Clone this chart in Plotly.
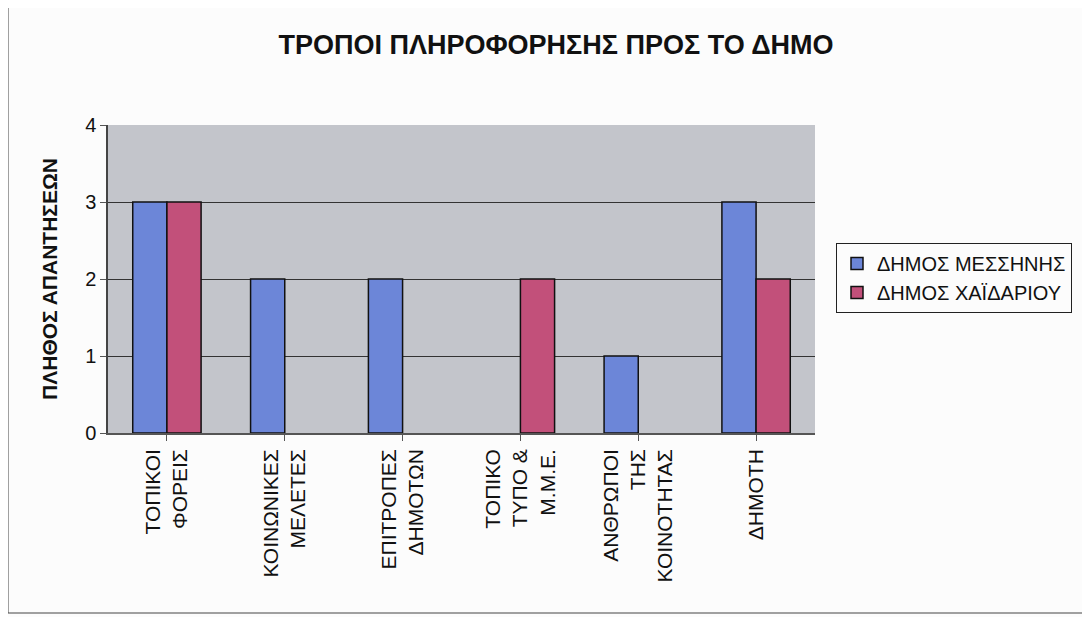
import plotly.graph_objects as go

categories = ["ΤΟΠΙΚΟΙ<br>ΦΟΡΕΙΣ", "ΚΟΙΝΩΝΙΚΕΣ<br>ΜΕΛΕΤΕΣ", "ΕΠΙΤΡΟΠΕΣ<br>ΔΗΜΟΤΩΝ",
              "ΤΟΠΙΚΟ<br>ΤΥΠΟ &<br>Μ.Μ.Ε.", "ΑΝΘΡΩΠΟΙ<br>ΤΗΣ<br>ΚΟΙΝΟΤΗΤΑΣ", "ΔΗΜΟΤΗ"]
messini = [3, 2, 2, None, 1, 3]
chaidari = [3, None, None, 2, None, 2]
series_names = ["ΔΗΜΟΣ ΜΕΣΣΗΝΗΣ", "ΔΗΜΟΣ ΧΑΪΔΑΡΙΟΥ"]
y_ticks = [0, 1, 2, 3, 4]

FONT = "Liberation Sans, Arial, sans-serif"
OFF = 8  # browser body margin
W, H = 1090 - OFF, 617 - OFF
L, R, T, B = 108 - OFF, 815 - OFF, 125 - OFF, 433 - OFF

fig = go.Figure()
fig.add_trace(go.Bar(x=categories, y=messini, name=series_names[0],
                     marker=dict(color="#6c86d8", line=dict(color="#111111", width=1.5))))
fig.add_trace(go.Bar(x=categories, y=chaidari, name=series_names[1],
                     marker=dict(color="#c2507a", line=dict(color="#111111", width=1.5))))

def px_x(p):
    return (p - OFF - L) / (R - L)

def px_y(p):
    return (B - (p - OFF)) / (B - T)

fig.update_layout(
    width=W, height=H,
    margin=dict(l=L, r=W - R, t=T, b=H - B),
    paper_bgcolor="#fcfcfc",
    plot_bgcolor="#c3c5cb",
    barmode="group",
    bargap=0.42,
    bargroupgap=0.0,
    font=dict(family=FONT, size=16, color="#111111"),
    title=dict(text="<b>ΤΡΟΠΟΙ ΠΛΗΡΟΦΟΡΗΣΗΣ ΠΡΟΣ ΤΟ ΔΗΜΟ</b>", x=(556 - OFF) / W, xanchor="center",
               y=1 - (45 - OFF) / H, yanchor="middle", font=dict(family=FONT, size=27, color="#111111")),
    legend=dict(x=px_x(836), y=px_y(243), xanchor="left", yanchor="top",
                bgcolor="#fcfcfc", bordercolor="#222222", borderwidth=1,
                font=dict(family=FONT, size=20, color="#111111"),
                itemwidth=30),
    showlegend=True,
)
fig.update_xaxes(tickangle=-90, showline=True, linecolor="#555555", linewidth=1.5,
                 ticks="outside", ticklen=6, tickcolor="#555555",
                 tickfont=dict(family=FONT, size=21, color="#111111"),
                 showgrid=False)
fig.update_yaxes(range=[0, 4], tickvals=y_ticks, showline=True, linecolor="#444444", linewidth=1.5,
                 ticks="outside", ticklen=6, tickcolor="#555555",
                 showgrid=True, gridcolor="#333333", gridwidth=1,
                 tickfont=dict(family=FONT, size=20, color="#111111"),
                 title=dict(text="<b>ΠΛΗΘΟΣ ΑΠΑΝΤΗΣΕΩΝ</b>", standoff=22,
                            font=dict(family=FONT, size=21, color="#111111")),
                 zeroline=False)

# outer frame lines of the scanned chart
fig.add_shape(type="line", xref="paper", yref="paper", x0=px_x(8), x1=px_x(8),
              y0=px_y(613), y1=px_y(8), line=dict(color="#444444", width=1))
fig.add_shape(type="line", xref="paper", yref="paper", x0=px_x(8), x1=px_x(1090),
              y0=px_y(613), y1=px_y(613), line=dict(color="#444444", width=1))

fig.write_html("out.html")
